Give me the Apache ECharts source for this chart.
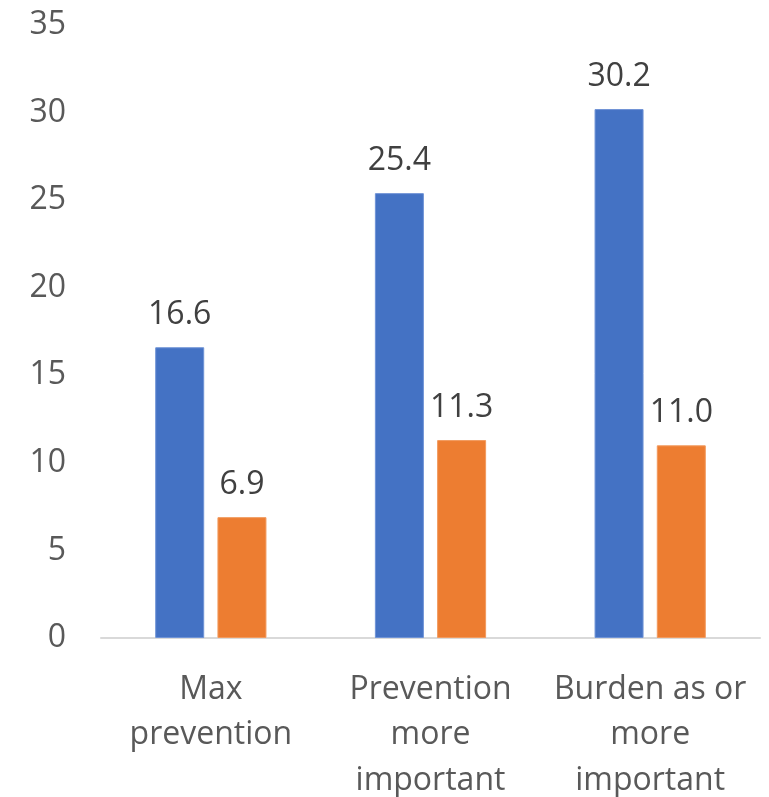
<!DOCTYPE html>
<html>
<head>
<meta charset="utf-8">
<script src="https://cdn.jsdelivr.net/npm/echarts@6/dist/echarts.min.js"></script>
<style>
  html, body { margin: 0; padding: 0; background: #fff; }
  #chart { width: 769px; height: 797px; }
</style>
</head>
<body>
<div id="chart"></div>
<script>
const categories = ['Max\nprevention', 'Prevention\nmore\nimportant', 'Burden as or\nmore\nimportant'];
const seriesA = [16.6, 25.4, 30.2];
const seriesB = [6.9, 11.3, 11.0];
const yTicks = [0, 5, 10, 15, 20, 25, 30, 35];

const font = '"Open Sans", sans-serif';
const chart = echarts.init(document.getElementById('chart'), null, { renderer: 'canvas' });

const label = {
  show: true,
  position: 'top',
  distance: 16,
  color: '#404040',
  fontFamily: font,
  fontSize: 32,
  formatter: p => p.value.toFixed(1)
};

chart.setOption({
  animation: false,
  grid: { left: 101, right: 9, top: 25, bottom: 159, outerBoundsMode: 'none', containLabel: false },
  xAxis: {
    type: 'category',
    data: categories,
    axisLine: { lineStyle: { color: '#d9d9d9', width: 2 } },
    axisTick: { show: false },
    axisLabel: {
      color: '#595959',
      fontFamily: font,
      fontSize: 32,
      lineHeight: 45.5,
      margin: 29,
      interval: 0
    }
  },
  yAxis: {
    type: 'value',
    min: yTicks[0],
    max: yTicks[yTicks.length - 1],
    interval: 5,
    splitLine: { show: false },
    axisLine: { show: false },
    axisTick: { show: false },
    axisLabel: {
      color: '#595959',
      fontFamily: font,
      fontSize: 32,
      margin: 35
    }
  },
  series: [
    {
      type: 'bar',
      data: seriesA,
      barWidth: 49,
      barGap: '27%',
      itemStyle: { color: '#4472C4', borderColor: '#6f93d6', borderWidth: 1 },
      label
    },
    {
      type: 'bar',
      data: seriesB,
      barWidth: 49,
      barGap: '27%',
      itemStyle: { color: '#ED7D31', borderColor: '#f29a5e', borderWidth: 1 },
      label
    }
  ]
});
</script>
</body>
</html>
